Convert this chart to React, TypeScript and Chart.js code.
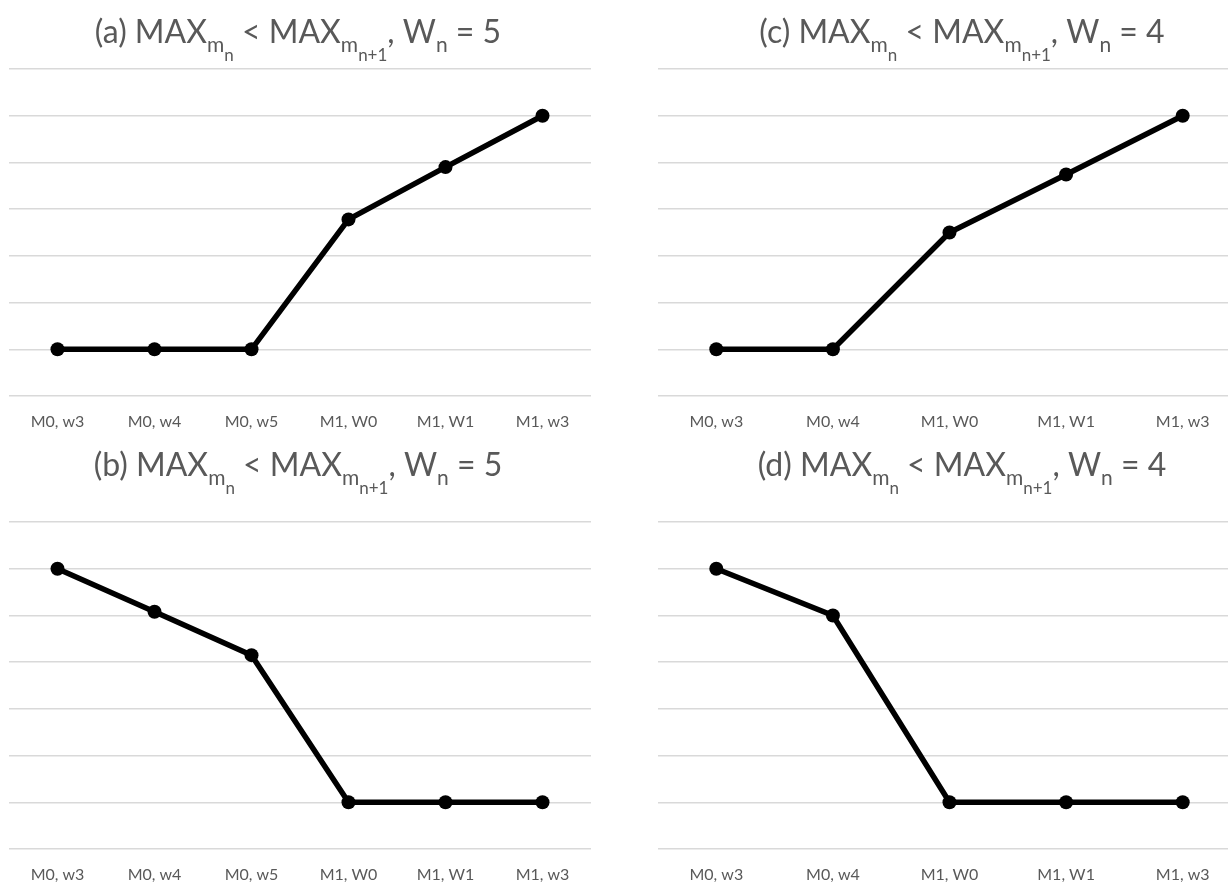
import React, { useEffect, useRef } from "react";
import { Chart, registerables } from "chart.js";

Chart.register(...registerables);

const labelsAB = ["M0, w3", "M0, w4", "M0, w5", "M1, W0", "M1, W1", "M1, w3"];
const labelsCD = ["M0, w3", "M0, w4", "M1, W0", "M1, W1", "M1, w3"];
const valuesA = [1, 1, 1, 3.78, 4.9, 6];
const valuesB = [6, 5.08, 4.15, 1, 1, 1];
const valuesC = [1, 1, 3.5, 4.74, 6];
const valuesD = [6, 5, 1, 1, 1];
const yMin = 0;
const yMax = 7;
const yStep = 1;

type Seg = { t: string; lvl: number };
const titleParts = (letter: string, w: string): Seg[] => [
  { t: `(${letter}) MAX`, lvl: 0 },
  { t: "m", lvl: 1 },
  { t: "n", lvl: 2 },
  { t: " < MAX", lvl: 0 },
  { t: "m", lvl: 1 },
  { t: "n+1", lvl: 2 },
  { t: ", W", lvl: 0 },
  { t: "n", lvl: 1 },
  { t: ` = ${w}`, lvl: 0 },
];

const FONT = "Lato, 'Open Sans', sans-serif";
const TEXT_COLOR = "#595959";
const sizes = [32, 21, 17];
const drops = [0, 9, 18];

type Panel = {
  key: string;
  labels: string[];
  values: number[];
  title: Seg[];
  left: number;
  top: number;
  width: number;
  height: number;
  padTop: number;
  titleCx: number;
  titleBase: number;
};

const panels: Panel[] = [
  { key: "a", labels: labelsAB, values: valuesA, title: titleParts("a", "5"), left: 9, top: 0, width: 582, height: 436, padTop: 69, titleCx: 298, titleBase: 43 },
  { key: "c", labels: labelsCD, values: valuesC, title: titleParts("c", "4"), left: 658, top: 0, width: 583, height: 436, padTop: 69, titleCx: 962, titleBase: 43 },
  { key: "b", labels: labelsAB, values: valuesB, title: titleParts("b", "5"), left: 9, top: 440, width: 582, height: 449, padTop: 82, titleCx: 298, titleBase: 476 },
  { key: "d", labels: labelsCD, values: valuesD, title: titleParts("d", "4"), left: 658, top: 440, width: 583, height: 449, padTop: 82, titleCx: 962, titleBase: 476 },
];

function PanelChart({ p }: { p: Panel }) {
  const ref = useRef<HTMLCanvasElement | null>(null);
  useEffect(() => {
    if (!ref.current) return;
    const titlePlugin = {
      id: "subTitle",
      afterDraw(chart: any) {
        const ctx = chart.ctx as CanvasRenderingContext2D;
        ctx.save();
        ctx.fillStyle = TEXT_COLOR;
        ctx.textBaseline = "alphabetic";
        ctx.textAlign = "left";
        let total = 0;
        for (const s of p.title) {
          ctx.font = `${sizes[s.lvl]}px ${FONT}`;
          total += ctx.measureText(s.t).width;
        }
        let x = p.titleCx - p.left - total / 2;
        const base = p.titleBase - p.top;
        for (const s of p.title) {
          ctx.font = `${sizes[s.lvl]}px ${FONT}`;
          ctx.fillText(s.t, x, base + drops[s.lvl]);
          x += ctx.measureText(s.t).width;
        }
        ctx.restore();
      },
    };
    const chart = new Chart(ref.current, {
      type: "line",
      data: {
        labels: p.labels,
        datasets: [
          {
            data: p.values,
            borderColor: "#000000",
            backgroundColor: "#000000",
            borderWidth: 5.5,
            pointRadius: 7,
            pointBackgroundColor: "#000000",
            pointBorderWidth: 0,
            tension: 0,
          },
        ],
      },
      options: {
        animation: false,
        responsive: false,
        layout: { autoPadding: false, padding: { top: p.padTop, left: 0, right: 0, bottom: 0 } },
        plugins: { legend: { display: false }, tooltip: { enabled: false }, title: { display: false } },
        scales: {
          x: {
            type: "category",
            offset: true,
            grid: { display: false, drawTicks: false },
            border: { display: false },
            ticks: {
              color: TEXT_COLOR,
              font: { family: FONT, size: 16 },
              padding: 16,
              maxRotation: 0,
              autoSkip: false,
            },
            afterFit(scale: any) {
              scale.height = 40;
            },
          },
          y: {
            min: yMin,
            max: yMax,
            ticks: { display: false, stepSize: yStep },
            grid: { color: "#d9d9d9", lineWidth: 1.5, drawTicks: false },
            border: { display: false },
            afterFit(scale: any) {
              scale.width = 0;
            },
          },
        },
      },
      plugins: [titlePlugin],
    });
    return () => chart.destroy();
  }, [p]);
  return (
    <canvas
      ref={ref}
      width={p.width}
      height={p.height}
      style={{ position: "absolute", left: p.left, top: p.top, width: p.width, height: p.height }}
    />
  );
}

export default function App() {
  return (
    <div
      style={{
        position: "fixed",
        left: 0,
        top: 0,
        width: 1228,
        height: 886,
        overflow: "hidden",
        background: "#ffffff",
      }}
    >
      {panels.map((p) => (
        <PanelChart key={p.key} p={p} />
      ))}
    </div>
  );
}
